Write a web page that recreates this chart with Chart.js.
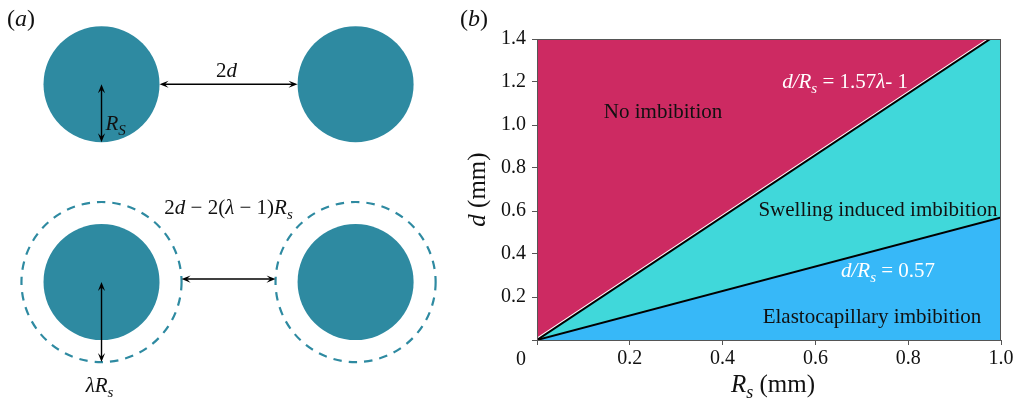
<!DOCTYPE html>
<html>
<head>
<meta charset="utf-8">
<script src="https://cdn.jsdelivr.net/npm/chart.js@4.4.1/dist/chart.umd.min.js"></script>
<style>
  html, body { margin: 0; padding: 0; background: #fff; }
  #wrap { position: relative; width: 1019px; height: 406px; }
  #schem { position: absolute; left: 0; top: 0; }
  #phase { position: absolute; left: 460px; top: 0; }
</style>
</head>
<body>
<div id="wrap">
  <canvas id="schem" width="460" height="406"></canvas>
  <canvas id="phase" width="559" height="406"></canvas>
</div>
<script>
// ---- panel (b): regime boundaries, d vs R_s (mm) ----
const rsValues = [0, 1.0];
const swellD = [0, 1.4335];   // d/Rs = 1.57*lambda - 1
const elastoD = [0, 0.57];    // d/Rs = 0.57
const xTicks = [0, 0.2, 0.4, 0.6, 0.8, 1.0];
const xTickLabels = ['', '0.2', '0.4', '0.6', '0.8', '1.0'];
const yTicks = [0, 0.2, 0.4, 0.6, 0.8, 1.0, 1.2, 1.4];
const yTickLabels = ['', '0.2', '0.4', '0.6', '0.8', '1.0', '1.2', '1.4'];

// ---- panel (a): sketch, lengths in units of R_s ----
const circleX = [0, 4.38];     // centres of the two fibres
const rowY = [0, -3.41];       // dry row, swollen row
const rsSketch = 1;
const lambdaSketch = 1.38;

const SERIF = '"Liberation Serif", "Times New Roman", serif';
const TEAL = '#2e8aa1';
const PINK = '#cd2a62';
const CYAN = '#40d8da';
const BLUE = '#37b8f8';

// draw a run of [text, style] parts; style n = normal, i = italic, s = italic subscript
function richText(ctx, parts, x, y, size, color, align) {
  const fontOf = st => (st === 'n' ? '' : 'italic ') + (st === 's' ? Math.round(size * 0.72) : size) + 'px ' + SERIF;
  let w = 0;
  parts.forEach(([t, st]) => { ctx.font = fontOf(st); w += ctx.measureText(t).width; });
  let cx = align === 'left' ? x : x - w / 2;
  ctx.fillStyle = color;
  ctx.textAlign = 'left';
  ctx.textBaseline = 'alphabetic';
  parts.forEach(([t, st]) => {
    ctx.font = fontOf(st);
    ctx.fillText(t, cx, st === 's' ? y + size * 0.24 : y);
    cx += ctx.measureText(t).width;
  });
}

function arrowHead(ctx, x, y, ang) {
  const L = 9, W = 3.6;
  ctx.beginPath();
  ctx.moveTo(x, y);
  ctx.lineTo(x - L * Math.cos(ang) + W * Math.sin(ang), y - L * Math.sin(ang) - W * Math.cos(ang));
  ctx.lineTo(x - 0.6 * L * Math.cos(ang), y - 0.6 * L * Math.sin(ang));
  ctx.lineTo(x - L * Math.cos(ang) - W * Math.sin(ang), y - L * Math.sin(ang) + W * Math.cos(ang));
  ctx.closePath();
  ctx.fill();
}

function doubleArrow(ctx, x1, y1, x2, y2) {
  const ang = Math.atan2(y2 - y1, x2 - x1);
  ctx.save();
  ctx.strokeStyle = '#000';
  ctx.fillStyle = '#000';
  ctx.lineWidth = 1.4;
  ctx.beginPath();
  ctx.moveTo(x1 + 5 * Math.cos(ang), y1 + 5 * Math.sin(ang));
  ctx.lineTo(x2 - 5 * Math.cos(ang), y2 - 5 * Math.sin(ang));
  ctx.stroke();
  arrowHead(ctx, x2, y2, ang);
  arrowHead(ctx, x1, y1, ang + Math.PI);
  ctx.restore();
}

const sketchPlugin = {
  id: 'sketch',
  afterDatasetsDraw(chart) {
    const ctx = chart.ctx;
    const sx = chart.scales.x, sy = chart.scales.y;
    const px = v => sx.getPixelForValue(v);
    const py = v => sy.getPixelForValue(v);
    const r = px(rsSketch) - px(0);
    ctx.save();
    // solid fibres
    rowY.forEach(ry => circleX.forEach(cx => {
      ctx.beginPath();
      ctx.arc(px(cx), py(ry), r, 0, Math.PI * 2);
      ctx.fillStyle = TEAL;
      ctx.fill();
    }));
    // swollen outline
    ctx.setLineDash([8.5, 7]);
    ctx.lineWidth = 2.2;
    ctx.strokeStyle = TEAL;
    circleX.forEach(cx => {
      ctx.beginPath();
      ctx.arc(px(cx), py(rowY[1]), lambdaSketch * r, 0, Math.PI * 2);
      ctx.stroke();
    });
    ctx.setLineDash([]);

    // arrows
    doubleArrow(ctx, px(circleX[0] + rsSketch), py(rowY[0]), px(circleX[1] - rsSketch), py(rowY[0]));
    doubleArrow(ctx, px(circleX[0]), py(rowY[0]), px(circleX[0]), py(rowY[0] - rsSketch));
    doubleArrow(ctx, px(circleX[0] + lambdaSketch * rsSketch), py(rowY[1]) - 3, px(circleX[1] - lambdaSketch * rsSketch), py(rowY[1]) - 3);
    doubleArrow(ctx, px(circleX[0]), py(rowY[1]), px(circleX[0]), py(rowY[1] - lambdaSketch * rsSketch));

    // labels
    const mid = (px(circleX[0]) + px(circleX[1])) / 2;
    richText(ctx, [['2', 'n'], ['d', 'i']], mid - 2, py(rowY[0]) - 7, 21, '#111');
    richText(ctx, [['R', 'i'], ['S', 's']], px(circleX[0]) + 4, py(rowY[0]) + 46, 21, '#111', 'left');
    richText(ctx, [['2', 'n'], ['d', 'i'], [' \u2212 2(', 'n'], ['\u03bb', 'i'], [' \u2212 1)', 'n'], ['R', 'i'], ['s', 's']],
      mid, py(rowY[1]) - 68, 21, '#111');
    richText(ctx, [['\u03bb', 'i'], ['R', 'i'], ['s', 's']], px(circleX[0]) - 2, py(rowY[1]) + 110, 21, '#111');
    // panel tag
    richText(ctx, [['(', 'n'], ['a', 'i'], [')', 'n']], 21, 26, 24, '#111');
    ctx.restore();
  }
};

new Chart(document.getElementById('schem'), {
  type: 'scatter',
  data: {
    datasets: [{
      label: 'fibre centres',
      data: rowY.flatMap(ry => circleX.map(cx => ({ x: cx, y: ry }))),
      pointRadius: 0
    }]
  },
  options: {
    responsive: false,
    animation: false,
    layout: { padding: 0, autoPadding: false },
    plugins: { legend: { display: false }, tooltip: { enabled: false } },
    scales: {
      x: { type: 'linear', min: -1.75, max: 6.18, display: false },
      y: { type: 'linear', min: -5.547, max: 1.453, display: false }
    }
  },
  plugins: [sketchPlugin]
});

// ---- panel (b) ----
const notes = [
  { parts: [['No imbibition', 'n']], x: 0.2716, y: 1.0326, color: '#111' },
  { parts: [['d/R', 'i'], ['s', 's'], [' = 1.57', 'n'], ['\u03bb', 'i'], ['- 1', 'n']], x: 0.664, y: 1.172, color: '#fff' },
  { parts: [['Swelling induced imbibition', 'n']], x: 0.7349, y: 0.5767, color: '#111' },
  { parts: [['d/R', 'i'], ['s', 's'], [' = 0.57', 'n']], x: 0.7565, y: 0.293, color: '#fff' },
  { parts: [['Elastocapillary imbibition', 'n']], x: 0.722, y: 0.0791, color: '#111' }
];

const phasePlugin = {
  id: 'phaseDecor',
  afterDraw(chart) {
    const ctx = chart.ctx;
    const a = chart.chartArea;
    const sx = chart.scales.x, sy = chart.scales.y;
    ctx.save();
    ctx.strokeStyle = '#555';
    ctx.lineWidth = 1;
    ctx.strokeRect(a.left + 0.5, a.top + 0.5, a.right - a.left - 1, a.bottom - a.top);

    notes.forEach(n => richText(ctx, n.parts, sx.getPixelForValue(n.x), sy.getPixelForValue(n.y), 21, n.color));

    // shared origin label
    ctx.font = '20px ' + SERIF;
    ctx.fillStyle = '#111';
    ctx.textAlign = 'center';
    ctx.textBaseline = 'alphabetic';
    ctx.fillText('0', a.left - 16, a.bottom + 25);

    // axis titles
    richText(ctx, [['R', 'i'], ['s', 's'], [' (mm)', 'n']], (a.left + a.right) / 2 + 4, a.bottom + 52, 25, '#111');
    ctx.translate(25, (a.top + a.bottom) / 2);
    ctx.rotate(-Math.PI / 2);
    richText(ctx, [['d', 'i'], [' (mm)', 'n']], 0, 0, 25, '#111');
    ctx.setTransform(1, 0, 0, 1, 0, 0);

    richText(ctx, [['(', 'n'], ['b', 'i'], [')', 'n']], 14, 26, 24, '#111');
    ctx.restore();
  }
};

const pts = ys => rsValues.map((x, i) => ({ x, y: ys[i] }));
const axisGrid = { drawOnChartArea: false, drawTicks: true, tickLength: 5, color: '#555', lineWidth: 1 };

new Chart(document.getElementById('phase'), {
  type: 'line',
  data: {
    datasets: [
      { label: 'Elastocapillary imbibition', data: pts(elastoD), fill: 'start', backgroundColor: BLUE,
        borderColor: '#000', borderWidth: 2, order: 1 },
      { label: 'Swelling induced imbibition', data: pts(swellD), fill: '-1', backgroundColor: CYAN,
        borderColor: '#000', borderWidth: 2, order: 2 },
      { label: 'No imbibition', data: pts(swellD), fill: 'end', backgroundColor: PINK,
        borderColor: '#fff', borderWidth: 4, order: 3 }
    ]
  },
  options: {
    responsive: false,
    animation: false,
    layout: { padding: { left: 0, top: 39, right: 18, bottom: 0 } },
    elements: { point: { radius: 0 }, line: { tension: 0 } },
    plugins: { legend: { display: false }, tooltip: { enabled: false } },
    scales: {
      x: {
        type: 'linear', min: 0, max: 1,
        afterBuildTicks: s => { s.ticks = xTicks.map(v => ({ value: v })); },
        afterFit: s => { s.height = 66; },
        grid: axisGrid,
        border: { display: true, color: '#555', width: 1 },
        ticks: {
          font: { family: SERIF, size: 20 }, color: '#111', padding: 2, maxRotation: 0,
          callback: (v, i) => xTickLabels[i]
        }
      },
      y: {
        type: 'linear', min: 0, max: 1.4,
        afterBuildTicks: s => { s.ticks = yTicks.map(v => ({ value: v })); },
        afterFit: s => { s.width = 77; },
        grid: axisGrid,
        border: { display: true, color: '#555', width: 1 },
        ticks: {
          font: { family: SERIF, size: 20 }, color: '#111', padding: 6,
          callback: (v, i) => yTickLabels[i]
        }
      }
    }
  },
  plugins: [phasePlugin]
});
</script>
</body>
</html>
